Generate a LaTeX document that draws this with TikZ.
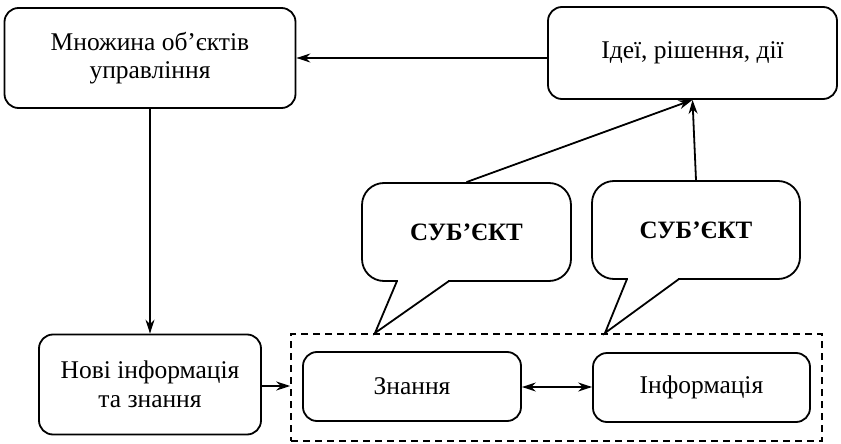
\documentclass[tikz,border=0pt]{standalone}
\usepackage{fontspec}
\setmainfont{Liberation Serif}
\usetikzlibrary{arrows.meta}
\begin{document}
\begin{tikzpicture}[x=1pt,y=-1pt,
  box/.style={draw,line width=1.8pt,rounded corners=14pt,align=center,font=\fontsize{25.5}{28.5}\selectfont,inner sep=0pt},
  bubble/.style={draw,line width=1.8pt,rounded corners=22pt,font=\fontsize{25}{28}\selectfont\bfseries,inner sep=0pt},
  conn/.style={line width=1.8pt,-{Stealth[length=14pt,width=9pt]}},
  dconn/.style={line width=1.8pt,{Stealth[length=14pt,width=9pt]}-{Stealth[length=14pt,width=9pt]}},
  group/.style={draw,line width=1.5pt,dash pattern=on 7pt off 5pt}]
\useasboundingbox (0,0) rectangle (841,444);
\node[box,minimum width=291pt,minimum height=100pt] (obj) at (150,58) {Множина об’єктів\\управління};
\node[box,minimum width=289pt,minimum height=92pt] (ideas) at (692.5,53) {Ідеї, рішення, дії};
\node[box,minimum width=222pt,minimum height=100pt] (new) at (150,384.5) {Нові інформація\\та знання};
\node[group,minimum width=531pt,minimum height=107pt,inner sep=0pt] (grp) at (556.5,387.5) {};
\node[box,minimum width=218pt,minimum height=69pt] (know) at (412,386.5) {Знання};
\node[box,minimum width=217pt,minimum height=69pt] (info) at (701.5,387.5) {Інформація};
\node[bubble,minimum width=209pt,minimum height=98pt] (s1) at (466.5,232) {СУБ’ЄКТ};
\node[bubble,minimum width=208pt,minimum height=98pt] (s2) at (696,230) {СУБ’ЄКТ};
% tails
\coordinate (t1) at (375,333);
\coordinate (t2) at (605,333);
\fill[white] (398,279) rectangle (448,283.9);
\draw[line width=1.8pt,line join=miter] (397,281) -- (t1) -- (449,281);
\fill[white] (628,277) rectangle (678,281.9);
\draw[line width=1.8pt,line join=miter] (627,279) -- (t2) -- (679,279);
% connectors
\draw[conn] (ideas.west |- 0,58) -- (obj.east |- 0,58);
\draw[conn] (obj.south) -- (new.north);
\draw[conn] (new.east |- 0,386) -- (grp.west |- 0,386);
\draw[dconn] (know.east |- 0,387) -- (info.west |- 0,387);
\draw[conn] (s1.north) -- (ideas.south);
\draw[conn] (s2.north) -- (ideas.south);
\end{tikzpicture}
\end{document}
